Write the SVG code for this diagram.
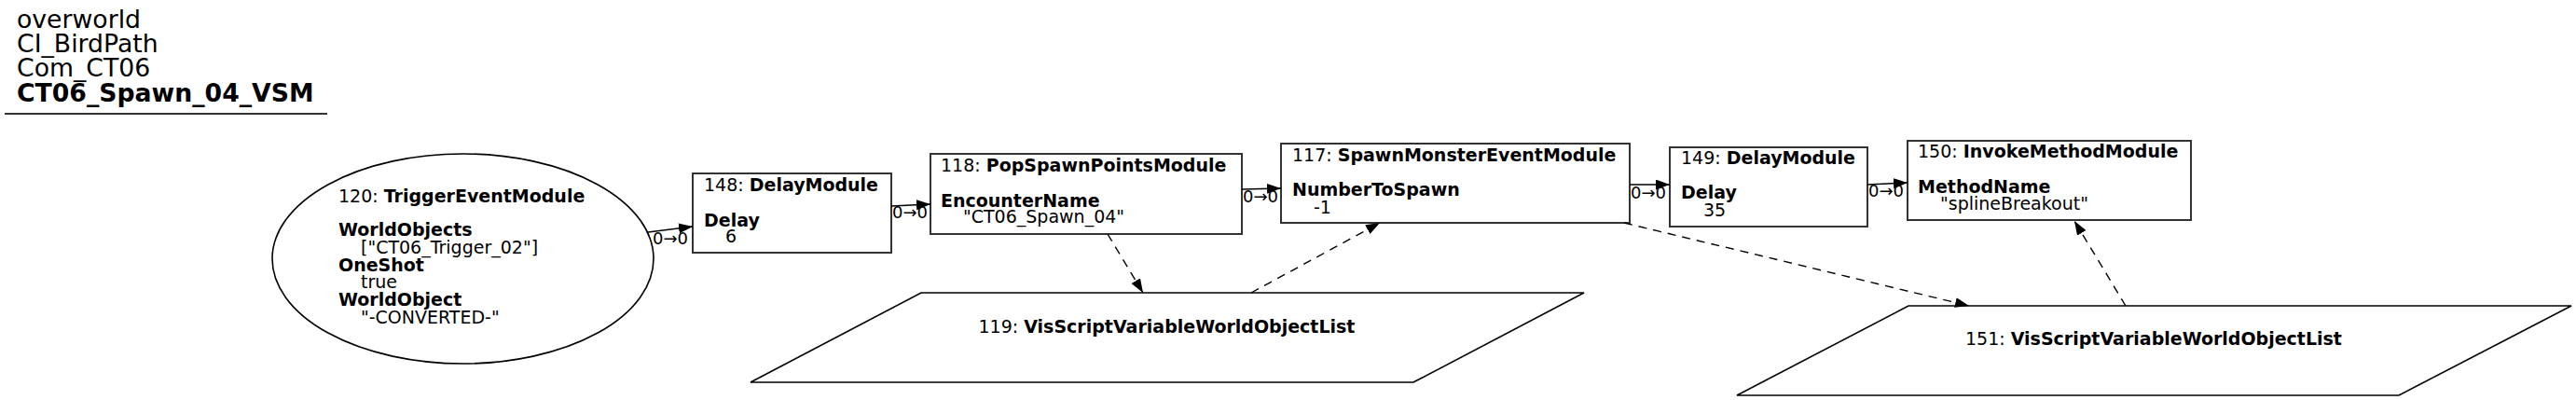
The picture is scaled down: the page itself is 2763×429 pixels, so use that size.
<svg xmlns="http://www.w3.org/2000/svg" width="2763" height="429" viewBox="0 0 2763 429">
<defs>
<style>
text{font-family:"DejaVu Sans","Liberation Sans",sans-serif;fill:#000}
.b{font-weight:bold}
.nt{font-size:19px}
.lbl{font-size:18px}
.title{font-size:26.7px}
.box{fill:#fff;stroke:#333;stroke-width:2}
.shape{fill:#fff;stroke:#000;stroke-width:1.6}
.e{fill:none;stroke:#000;stroke-width:1.4}
.d{stroke-dasharray:9,7}
</style>
<marker id="ah" markerUnits="userSpaceOnUse" markerWidth="16" markerHeight="12" refX="15" refY="5.5" orient="auto">
<path d="M0,0 L15,5.5 L0,11 z" fill="#000"/>
</marker>
</defs>
<rect width="2763" height="429" fill="#fff"/>
<g id="title">
<text class="title" x="18" y="30">overworld</text>
<text class="title" x="18" y="56">CI_BirdPath</text>
<text class="title" x="18" y="82">Com_CT06</text>
<text class="title b" x="18" y="109">CT06_Spawn_04_VSM</text>
<line x1="5" y1="122" x2="351" y2="122" stroke="#333" stroke-width="2"/>
</g>
<g id="node120">
<ellipse class="shape" cx="496.5" cy="277.5" rx="204.5" ry="112.5"/>
<text class="nt" x="363" y="217">120: <tspan class="b">TriggerEventModule</tspan></text>
<text class="nt b" x="363" y="253">WorldObjects</text>
<text class="nt" x="387" y="272">["CT06_Trigger_02"]</text>
<text class="nt b" x="363" y="291">OneShot</text>
<text class="nt" x="387" y="309">true</text>
<text class="nt b" x="363" y="328">WorldObject</text>
<text class="nt" x="387" y="347">"-CONVERTED-"</text>
</g>
<g id="node148">
<rect class="box" x="743" y="186" width="213" height="85"/>
<text class="nt" x="755" y="205">148: <tspan class="b">DelayModule</tspan></text>
<text class="nt b" x="755" y="243">Delay</text>
<text class="nt" x="778" y="260">6</text>
</g>
<g id="node118">
<rect class="box" x="998" y="165" width="334" height="86"/>
<text class="nt" x="1009" y="184">118: <tspan class="b">PopSpawnPointsModule</tspan></text>
<text class="nt b" x="1009" y="222">EncounterName</text>
<text class="nt" x="1033" y="239">"CT06_Spawn_04"</text>
</g>
<g id="node117">
<rect class="box" x="1374" y="154" width="374" height="85"/>
<text class="nt" x="1386" y="173">117: <tspan class="b">SpawnMonsterEventModule</tspan></text>
<text class="nt b" x="1386" y="210">NumberToSpawn</text>
<text class="nt" x="1409" y="229">-1</text>
</g>
<g id="node149">
<rect class="box" x="1791" y="158" width="212" height="85"/>
<text class="nt" x="1803" y="176">149: <tspan class="b">DelayModule</tspan></text>
<text class="nt b" x="1803" y="213">Delay</text>
<text class="nt" x="1827" y="232">35</text>
</g>
<g id="node150">
<rect class="box" x="2046" y="151" width="304" height="85"/>
<text class="nt" x="2057" y="169">150: <tspan class="b">InvokeMethodModule</tspan></text>
<text class="nt b" x="2057" y="207">MethodName</text>
<text class="nt" x="2081" y="225">"splineBreakout"</text>
</g>
<g id="node119">
<polygon class="shape" points="988,314 1699,314 1516,410 805,410"/>
<text class="nt" x="1251.5" y="357" text-anchor="middle">119: <tspan class="b">VisScriptVariableWorldObjectList</tspan></text>
</g>
<g id="node151">
<polygon class="shape" points="2047,328 2758,328 2573,424 1863,424"/>
<text class="nt" x="2310" y="370" text-anchor="middle">151: <tspan class="b">VisScriptVariableWorldObjectList</tspan></text>
</g>
<g id="connectors">
<path class="e" d="M695,249 L743,243" marker-end="url(#ah)"/>
<text class="lbl" x="700" y="262">0→0</text>
<path class="e" d="M956,221 L998,219" marker-end="url(#ah)"/>
<text class="lbl" x="957" y="234">0→0</text>
<path class="e" d="M1332,203 L1374,202" marker-end="url(#ah)"/>
<text class="lbl" x="1333" y="217">0→0</text>
<path class="e" d="M1748,198 L1791,198" marker-end="url(#ah)"/>
<text class="lbl" x="1749" y="213">0→0</text>
<path class="e" d="M2003,198 L2046,196" marker-end="url(#ah)"/>
<text class="lbl" x="2004" y="211">0→0</text>
<path class="e d" d="M1188,251 L1226,314" marker-end="url(#ah)"/>
<path class="e d" d="M1342,314 L1480,239" marker-end="url(#ah)"/>
<path class="e d" d="M1742,239 L2112,328" marker-end="url(#ah)"/>
<path class="e d" d="M2280,328 L2225,237" marker-end="url(#ah)"/>
</g>
</svg>
